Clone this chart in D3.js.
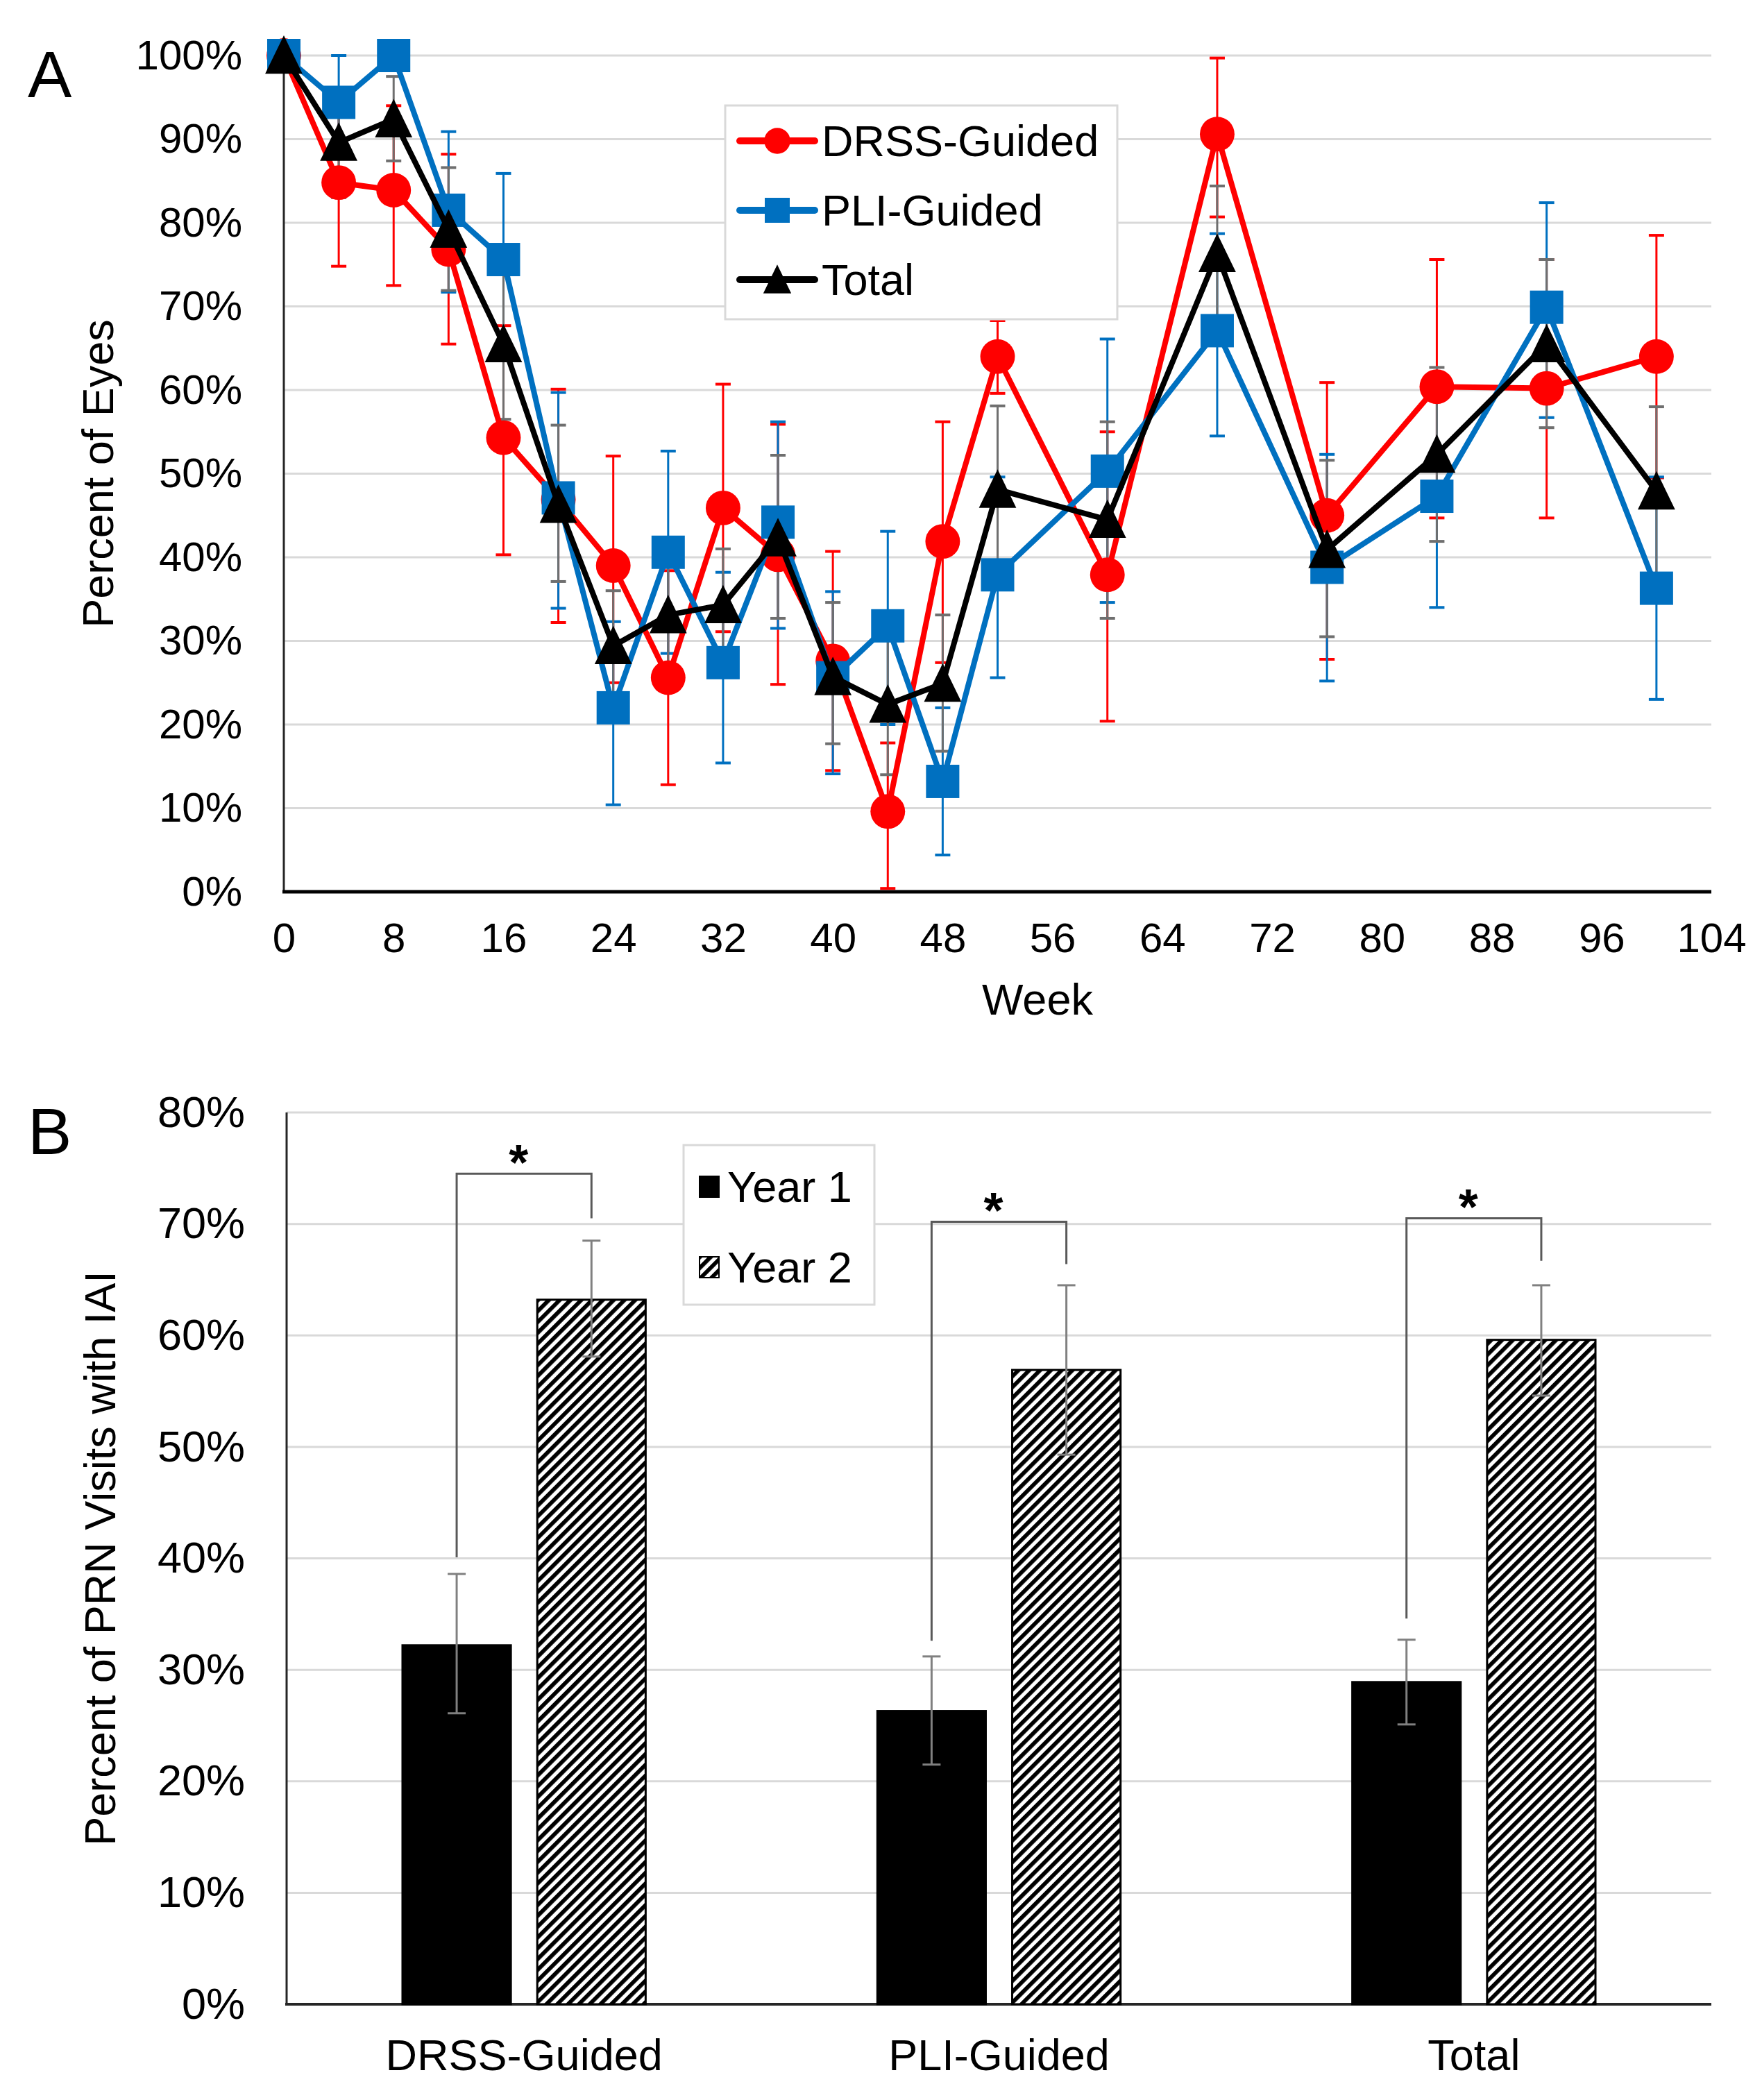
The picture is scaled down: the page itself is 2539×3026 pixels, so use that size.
<!DOCTYPE html>
<html>
<head>
<meta charset="utf-8">
<script src="https://cdn.jsdelivr.net/npm/d3@7"></script>
<style>
  body { margin: 0; background: #fff; }
  text { font-family: "Liberation Sans", Arial, sans-serif; fill: #000; }
</style>
</head>
<body>
<div id="chart"></div>
<script>

// panel A data (percent of eyes by week)
const weeks = [0, 4, 8, 12, 16, 20, 24, 28, 32, 36, 40, 44, 48, 52, 60, 68, 76, 84, 92, 100];

const drssVals = [100, 84.8, 83.9, 76.8, 54.3, 46.9, 39.0, 25.6, 45.9, 40.3, 27.6, 9.6, 41.9, 64.0, 37.9, 90.6, 45.0, 60.4, 60.2, 64.0];
const drssHi   = [100, 94.8, 94.0, 88.2, 67.7, 60.1, 52.1, 38.4, 60.7, 55.9, 40.7, 17.8, 56.2, 68.3, 55.0, 99.7, 60.9, 75.6, 75.6, 78.5];
const drssLo   = [100, 74.8, 72.5, 65.5, 40.3, 32.2, 25.0, 12.8, 31.1, 24.8, 14.5, 0.4, 27.4, 59.6, 20.4, 80.7, 27.8, 44.7, 44.7, 49.5];

const pliVals = [100, 94.4, 100, 81.5, 75.6, 47.1, 22.0, 40.6, 27.4, 44.2, 25.6, 31.8, 13.2, 37.9, 50.3, 67.1, 38.8, 47.3, 69.9, 36.3];
const pliHi   = [100, 100, 100, 90.9, 85.9, 59.7, 32.3, 52.7, 38.2, 56.2, 35.9, 43.1, 22.0, 49.6, 66.1, 78.7, 52.3, 60.6, 82.4, 49.6];
const pliLo   = [100, 88.8, 100, 71.7, 65.3, 33.9, 10.4, 28.5, 15.4, 31.5, 14.1, 20.0, 4.4, 25.6, 34.6, 54.5, 25.2, 34.0, 56.7, 23.0];

const totVals = [100, 89.6, 92.4, 79.2, 65.5, 46.3, 29.4, 33.1, 34.3, 42.3, 25.7, 22.4, 24.9, 48.1, 44.5, 76.3, 40.9, 52.3, 65.5, 47.9];
const totHi   = [100, 96.0, 97.5, 86.6, 74.5, 55.8, 36.0, 40.0, 41.0, 52.2, 34.6, 30.8, 33.1, 58.1, 56.2, 84.4, 51.6, 62.7, 75.6, 58.0];
const totLo   = [100, 83.0, 87.4, 71.9, 56.5, 37.1, 23.0, 26.0, 27.5, 32.7, 17.7, 14.0, 16.8, 38.1, 32.7, 68.2, 30.5, 41.9, 55.5, 37.8];

const seriesNames = ["DRSS-Guided", "PLI-Guided", "Total"];
const weekTicks = d3.range(0, 105, 8);
const pctTicksA = d3.range(0, 101, 10);

// panel B data (percent of PRN visits with IAI)
const groups = ["DRSS-Guided", "PLI-Guided", "Total"];
const years = ["Year 1", "Year 2"];
const year1Vals = [32.2, 26.3, 28.9];
const year1Hi   = [38.6, 31.2, 32.7];
const year1Lo   = [26.1, 21.5, 25.1];
const year2Vals = [63.2, 56.9, 59.6];
const year2Hi   = [68.5, 64.5, 64.5];
const year2Lo   = [58.1, 49.3, 54.6];
const bracketTop   = [74.5, 70.2, 70.5];
const bracketLeft  = [40.1, 32.6, 34.6];
const bracketRight = [70.5, 66.4, 66.7];
const pctTicksB = d3.range(0, 81, 10);

const width = 2539;
const height = 3026;

const svg = d3.select("#chart")
  .append("svg")
  .attr("width", width)
  .attr("height", height);

svg.append("rect").attr("width", width).attr("height", height).attr("fill", "#fff");

// hatch pattern for year 2 bars
const defs = svg.append("defs");
const hatch = defs.append("pattern")
  .attr("id", "hatch")
  .attr("patternUnits", "userSpaceOnUse")
  .attr("width", 11)
  .attr("height", 11)
  .attr("patternTransform", "rotate(45)");
hatch.append("rect").attr("width", 11).attr("height", 11).attr("fill", "#fff");
hatch.append("rect").attr("width", 5.8).attr("height", 11).attr("fill", "#000");

/*
  Panel A
*/

const xA = d3.scaleLinear().domain([0, 104]).range([409, 2466]);
const yA = d3.scaleLinear().domain([0, 100]).range([1285, 80]);

// gridlines
svg.append("g")
  .selectAll("line")
  .data(pctTicksA.filter(d => d > 0))
  .enter()
  .append("line")
    .attr("x1", xA(0))
    .attr("x2", xA(104))
    .attr("y1", d => yA(d))
    .attr("y2", d => yA(d))
    .attr("stroke", "#d9d9d9")
    .attr("stroke-width", 3);

// y axis
const yAxisA = svg.append("g")
  .attr("transform", `translate(${xA(0)},0)`)
  .call(d3.axisLeft(yA).tickValues(pctTicksA).tickSize(0).tickPadding(60).tickFormat(d => d + "%"));
yAxisA.select(".domain").remove();
yAxisA.selectAll("text").attr("font-size", 60).attr("font-family", "Liberation Sans, Arial, sans-serif");

// x axis
const xAxisA = svg.append("g")
  .attr("transform", `translate(0,${yA(0)})`)
  .call(d3.axisBottom(xA).tickValues(weekTicks).tickSize(0).tickPadding(44));
xAxisA.select(".domain").remove();
xAxisA.selectAll("text").attr("font-size", 60).attr("font-family", "Liberation Sans, Arial, sans-serif");

// axis lines
svg.append("line")
  .attr("x1", xA(0)).attr("x2", xA(0))
  .attr("y1", yA(100)).attr("y2", yA(0))
  .attr("stroke", "#262626").attr("stroke-width", 3);
svg.append("line")
  .attr("x1", xA(0) - 2).attr("x2", xA(104))
  .attr("y1", yA(0)).attr("y2", yA(0))
  .attr("stroke", "#000").attr("stroke-width", 5);

// axis titles
svg.append("text")
  .attr("x", 1495).attr("y", 1462)
  .attr("text-anchor", "middle")
  .attr("font-size", 63)
  .text("Week");

svg.append("text")
  .attr("transform", `translate(163,${(yA(0) + yA(100)) / 2}) rotate(-90)`)
  .attr("text-anchor", "middle")
  .attr("font-size", 63)
  .text("Percent of Eyes");

svg.append("text")
  .attr("x", 40).attr("y", 140)
  .attr("font-size", 95)
  .text("A");

const series = [
  {name: seriesNames[0], vals: drssVals, hi: drssHi, lo: drssLo, color: "#ff0000", err: "#ff0000", shape: "circle"},
  {name: seriesNames[1], vals: pliVals, hi: pliHi, lo: pliLo, color: "#0070c0", err: "#0070c0", shape: "square"},
  {name: seriesNames[2], vals: totVals, hi: totHi, lo: totLo, color: "#000000", err: "#6f6f6f", shape: "triangle"}
];

// marker shapes
function drawMarker(g, shape, color, size) {
  if (shape === "circle") {
    g.append("circle").attr("r", size * 0.52).attr("fill", color);
  } else if (shape === "square") {
    g.append("rect")
      .attr("x", -size / 2).attr("y", -size / 2)
      .attr("width", size).attr("height", size)
      .attr("fill", color);
  } else {
    const s = size * 0.56;
    g.append("path")
      .attr("d", `M0,${-s * 1.08} L${s},${s * 0.98} L${-s},${s * 0.98} Z`)
      .attr("fill", color);
  }
}

// error bars (drawn under lines)
const capW = 11;
series.forEach(s => {
  const eb = svg.append("g");
  weeks.forEach((w, i) => {
    if (s.hi[i] === s.lo[i]) return;
    const x = xA(w);
    eb.append("line").attr("x1", x).attr("x2", x)
      .attr("y1", yA(s.hi[i])).attr("y2", yA(s.lo[i]))
      .attr("stroke", s.err).attr("stroke-width", 3);
    [s.hi[i], s.lo[i]].forEach(v => {
      eb.append("line").attr("x1", x - capW).attr("x2", x + capW)
        .attr("y1", yA(v)).attr("y2", yA(v))
        .attr("stroke", s.err).attr("stroke-width", 4);
    });
  });
});

// lines and markers
series.forEach(s => {
  const line = d3.line()
    .x((d, i) => xA(weeks[i]))
    .y(d => yA(d));
  svg.append("path")
    .datum(s.vals)
    .attr("d", line)
    .attr("fill", "none")
    .attr("stroke", s.color)
    .attr("stroke-width", 8)
    .attr("stroke-linejoin", "round");
  svg.append("g")
    .selectAll("g")
    .data(s.vals)
    .enter()
    .append("g")
      .attr("transform", (d, i) => `translate(${xA(weeks[i])},${yA(d)})`)
      .each(function() { drawMarker(d3.select(this), s.shape, s.color, 48); });
});

// legend A
const legA = svg.append("g");
legA.append("rect")
  .attr("x", 1045).attr("y", 152).attr("width", 565).attr("height", 308)
  .attr("fill", "#fff").attr("stroke", "#d9d9d9").attr("stroke-width", 3);
series.forEach((s, i) => {
  const cy = 203 + i * 100;
  legA.append("line")
    .attr("x1", 1066).attr("x2", 1174).attr("y1", cy).attr("y2", cy)
    .attr("stroke", s.color).attr("stroke-width", 10).attr("stroke-linecap", "round");
  const m = legA.append("g").attr("transform", `translate(1120,${cy})`);
  drawMarker(m, s.shape, s.color, 36);
  legA.append("text")
    .attr("x", 1184).attr("y", cy).attr("dy", "0.35em")
    .attr("font-size", 63)
    .text(s.name);
});

/*
  Panel B
*/

const xB = d3.scaleBand().domain(groups).range([413, 2466]);
const bw = xB.bandwidth();
const xSub = d3.scaleBand().domain(years).range([bw * 0.244, bw * 0.756]).paddingInner(0.196);
const yB = d3.scaleLinear().domain([0, 80]).range([2888, 1603]);

// gridlines
svg.append("g")
  .selectAll("line")
  .data(pctTicksB.filter(d => d > 0))
  .enter()
  .append("line")
    .attr("x1", 413).attr("x2", 2466)
    .attr("y1", d => yB(d)).attr("y2", d => yB(d))
    .attr("stroke", "#d9d9d9").attr("stroke-width", 3);

const yAxisB = svg.append("g")
  .attr("transform", "translate(413,0)")
  .call(d3.axisLeft(yB).tickValues(pctTicksB).tickSize(0).tickPadding(60).tickFormat(d => d + "%"));
yAxisB.select(".domain").remove();
yAxisB.selectAll("text").attr("font-size", 63).attr("font-family", "Liberation Sans, Arial, sans-serif");

const xAxisB = svg.append("g")
  .attr("transform", `translate(0,${yB(0)})`)
  .call(d3.axisBottom(xB).tickSize(0).tickPadding(50));
xAxisB.select(".domain").remove();
xAxisB.selectAll("text").attr("font-size", 63).attr("font-family", "Liberation Sans, Arial, sans-serif");

// axis lines
svg.append("line")
  .attr("x1", 413).attr("x2", 413)
  .attr("y1", yB(80)).attr("y2", yB(0))
  .attr("stroke", "#262626").attr("stroke-width", 3);
svg.append("line")
  .attr("x1", 411).attr("x2", 2466)
  .attr("y1", yB(0)).attr("y2", yB(0))
  .attr("stroke", "#262626").attr("stroke-width", 4);

svg.append("text")
  .attr("transform", `translate(166,${(yB(0) + yB(80)) / 2}) rotate(-90)`)
  .attr("text-anchor", "middle")
  .attr("font-size", 63)
  .text("Percent of PRN Visits with IAI");

svg.append("text")
  .attr("x", 40).attr("y", 1663)
  .attr("font-size", 95)
  .text("B");

const barData = [];
groups.forEach((g, i) => {
  barData.push({group: g, year: years[0], v: year1Vals[i], hi: year1Hi[i], lo: year1Lo[i]});
  barData.push({group: g, year: years[1], v: year2Vals[i], hi: year2Hi[i], lo: year2Lo[i]});
});

// bars
svg.append("g")
  .selectAll("rect")
  .data(barData)
  .enter()
  .append("rect")
    .attr("x", d => xB(d.group) + xSub(d.year))
    .attr("y", d => yB(d.v))
    .attr("width", xSub.bandwidth())
    .attr("height", d => yB(0) - yB(d.v))
    .attr("fill", d => d.year === years[0] ? "#000" : "url(#hatch)")
    .attr("stroke", "#000")
    .attr("stroke-width", 3);

// error bars
const ebB = svg.append("g");
barData.forEach(d => {
  const x = xB(d.group) + xSub(d.year) + xSub.bandwidth() / 2;
  ebB.append("line").attr("x1", x).attr("x2", x)
    .attr("y1", yB(d.hi)).attr("y2", yB(d.lo))
    .attr("stroke", "#808080").attr("stroke-width", 3);
  [d.hi, d.lo].forEach(v => {
    ebB.append("line").attr("x1", x - 13).attr("x2", x + 13)
      .attr("y1", yB(v)).attr("y2", yB(v))
      .attr("stroke", "#808080").attr("stroke-width", 3);
  });
});

// significance brackets
const br = svg.append("g");
groups.forEach((g, i) => {
  const xl = xB(g) + xSub(years[0]) + xSub.bandwidth() / 2;
  const xr = xB(g) + xSub(years[1]) + xSub.bandwidth() / 2;
  br.append("path")
    .attr("d", `M${xl},${yB(bracketLeft[i])} L${xl},${yB(bracketTop[i])} L${xr},${yB(bracketTop[i])} L${xr},${yB(bracketRight[i])}`)
    .attr("fill", "none")
    .attr("stroke", "#595959")
    .attr("stroke-width", 3);
  br.append("text")
    .attr("x", (xl + xr) / 2 - 8)
    .attr("y", yB(bracketTop[i]) - 36)
    .attr("dy", "0.62em")
    .attr("text-anchor", "middle")
    .attr("font-size", 72)
    .attr("font-weight", "bold")
    .text("*");
});

// legend B
const legB = svg.append("g");
legB.append("rect")
  .attr("x", 985).attr("y", 1650).attr("width", 275).attr("height", 230)
  .attr("fill", "#fff").attr("stroke", "#d9d9d9").attr("stroke-width", 3);
years.forEach((y, i) => {
  const cy = 1710 + i * 116;
  legB.append("rect")
    .attr("x", 1008).attr("y", cy - 15).attr("width", 28).attr("height", 30)
    .attr("fill", i === 0 ? "#000" : "url(#hatch)")
    .attr("stroke", "#000").attr("stroke-width", 2);
  legB.append("text")
    .attr("x", 1048).attr("y", cy).attr("dy", "0.35em")
    .attr("font-size", 63)
    .text(y);
});

</script>
</body>
</html>
